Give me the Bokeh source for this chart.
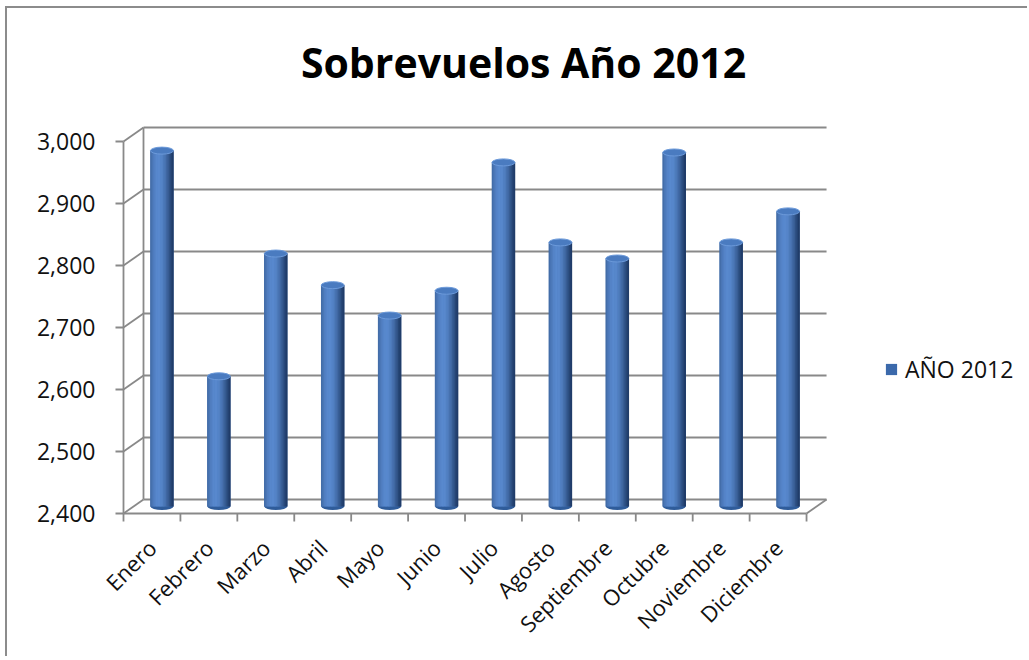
import math
from bokeh.plotting import figure
from bokeh.models import Range1d, FixedTicker, NumeralTickFormatter, Legend, LegendItem, Label
from bokeh.embed import file_html
from bokeh.resources import INLINE

# ---------------- data ----------------
months = ["Enero", "Febrero", "Marzo", "Abril", "Mayo", "Junio", "Julio",
          "Agosto", "Septiembre", "Octubre", "Noviembre", "Diciembre"]
flights = [2974, 2610, 2808, 2757, 2708, 2748, 2955, 2826, 2800, 2971, 2826, 2876]
y_ticks = [2400, 2500, 2600, 2700, 2800, 2900, 3000]
series_name = "AÑO 2012"
title_text = "Sobrevuelos Año 2012"

# ---------------- geometry (pixels) ----------------
W, H = 1022, 650
BL, BR, BT, BB = 101, 14, 6, 130           # borders around the frame
FW, FH = W - BL - BR, H - BT - BB          # frame size
PX_X = 56.92                               # px per category
PX_Y = 0.62                                # px per unit of value
Y0 = y_ticks[0]
front_x0_px = 15                           # front plane x=0, px right of frame left
front_y0_px = 15                           # front plane y=Y0, px above frame bottom
DX = 20 / PX_X                             # depth offset in data units
DY = 14 / PX_Y

x_start = -front_x0_px / PX_X
x_end = x_start + FW / PX_X
y_start = Y0 - front_y0_px / PX_Y
y_end = y_start + FH / PX_Y

p = figure(width=W, height=H, output_backend="svg", toolbar_location=None,
           x_range=Range1d(x_start, x_end), y_range=Range1d(y_start, y_end),
           min_border_left=BL, min_border_right=BR, min_border_top=BT, min_border_bottom=BB)
p.title.visible = False
p.outline_line_color = None
p.xgrid.visible = False
p.ygrid.visible = False
p.background_fill_color = "white"
p.border_fill_color = "white"
p.styles = {"margin-left": "5px", "margin-top": "6px",
            "border-left": "2px solid #8c8c8c", "border-top": "2px solid #8c8c8c"}

GRID = "#898989"
GW = 1.8
n = len(months)
ymax = y_ticks[-1]

# back wall grid lines, side wall diagonals, y tick marks
p.segment(x0=[DX] * len(y_ticks), y0=[v + DY for v in y_ticks],
          x1=[n + DX] * len(y_ticks), y1=[v + DY for v in y_ticks], line_color=GRID, line_width=GW)
p.segment(x0=[0] * len(y_ticks), y0=y_ticks, x1=[DX] * len(y_ticks),
          y1=[v + DY for v in y_ticks], line_color=GRID, line_width=GW)
p.segment(x0=[-8 / PX_X] * len(y_ticks), y0=y_ticks, x1=[0] * len(y_ticks), y1=y_ticks,
          line_color=GRID, line_width=GW)
# verticals: front-left axis line and back-left wall edge
p.segment(x0=[0, DX], y0=[Y0, Y0 + DY], x1=[0, DX], y1=[ymax, ymax + DY],
          line_color=GRID, line_width=GW)
# floor: front edge, right diagonal
p.segment(x0=[0, n], y0=[Y0, Y0], x1=[n, n + DX], y1=[Y0, Y0 + DY],
          line_color=GRID, line_width=GW)
# x tick marks at category boundaries
kk = list(range(n + 1))
p.segment(x0=kk, y0=[Y0] * len(kk), x1=kk, y1=[Y0 - 8 / PX_Y] * len(kk),
          line_color=GRID, line_width=GW)

# ---------------- cylinders ----------------
BW = 23 / PX_X
xc = [i + 0.5 + DX / 2 for i in range(n)]
tops = [v + DY / 2 for v in flights]
bottoms = [Y0 + DY / 2] * n

dark = (28, 55, 98)
light = (88, 137, 206)

def shade(t):
    w = max(0.0, math.cos((t - 0.36) * math.pi / 1.3)) ** 1.2
    c = [round(d + (l - d) * w) for d, l in zip(dark, light)]
    return "#%02x%02x%02x" % tuple(c)

# bottom cap
p.ellipse(x=xc, y=bottoms, width=BW, height=7, height_units="screen",
          fill_color="#2f5c9a", line_color=None)
# base body (also used as legend swatch)
body = p.vbar(x=xc, width=BW, top=tops, bottom=bottoms, fill_color="#3b69ab", line_color=None)
N = 16
for j in range(N):
    t = (j + 0.5) / N
    off = -BW / 2 + (j + 0.5) * BW / N
    p.vbar(x=[x + off for x in xc], width=BW / N * 1.35, top=tops, bottom=bottoms,
           fill_color=shade(t), line_color=None)
# top cap
p.ellipse(x=xc, y=tops, width=BW, height=7, height_units="screen",
          fill_color="#4a7bc0", line_color="#6c9ada", line_width=1)

# ---------------- axes ----------------
FONT = "Open Sans"
yax = p.yaxis[0]
yax.ticker = FixedTicker(ticks=y_ticks)
yax.formatter = NumeralTickFormatter(format="0,0")
yax.axis_line_color = None
yax.major_tick_line_color = None
yax.minor_tick_line_color = None
yax.major_label_standoff = 7
yax.major_label_text_font = FONT
yax.major_label_text_font_size = "23px"
yax.major_label_text_color = "#111111"

xax = p.xaxis[0]
centers = [i + 0.5 for i in range(n)]
xax.ticker = FixedTicker(ticks=centers)
xax.major_label_overrides = {c: m for c, m in zip(centers, months)}
xax.major_label_orientation = math.pi / 4
xax.axis_line_color = None
xax.major_tick_line_color = None
xax.minor_tick_line_color = None
xax.major_label_standoff = 9
xax.major_label_text_font = FONT
xax.major_label_text_font_size = "22px"
xax.major_label_text_color = "#111111"

# ---------------- title ----------------
def cx(px_canvas):   # canvas px -> data x
    return x_start + (px_canvas - BL) / PX_X

def cy(py_canvas):   # canvas px -> data y
    return y_end - (py_canvas - BT) / PX_Y

title = Label(x=cx(516), y=cy(53), text=title_text, text_align="center",
              text_baseline="alphabetic", text_font=FONT, text_font_style="bold",
              text_font_size="41px", text_color="#000000")
p.add_layout(title)

# ---------------- legend ----------------
legend = Legend(items=[LegendItem(label=series_name, renderers=[body], index=0)],
                location=(776, 143), padding=0, margin=0, glyph_width=14, glyph_height=14,
                label_standoff=7, label_height=14, label_text_font=FONT,
                label_text_font_size="23px", label_text_color="#111111",
                border_line_color=None, background_fill_alpha=0)
p.add_layout(legend)

open("out.html", "w").write(file_html(p, INLINE))
